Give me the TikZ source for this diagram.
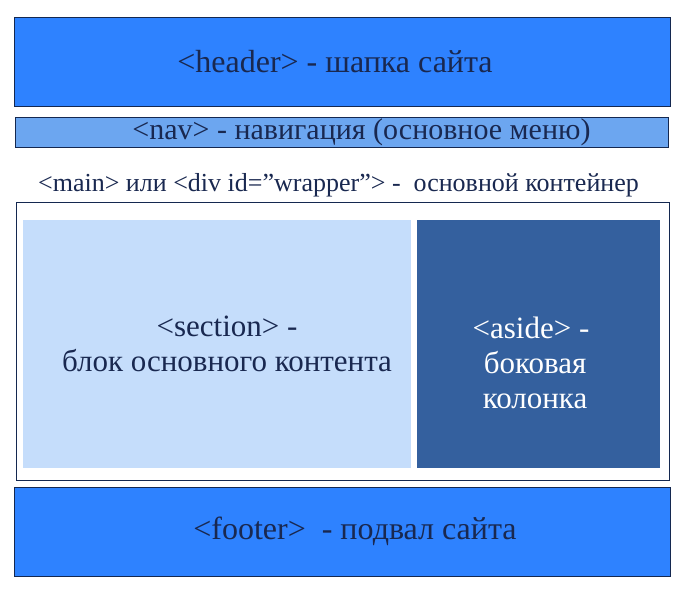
\documentclass[tikz,border=0pt]{standalone}
\usepackage{fontspec}
\setmainfont{Liberation Serif}
\usetikzlibrary{positioning}
\definecolor{mynavy}{RGB}{20,40,80}
\definecolor{mytext}{RGB}{25,40,80}
\definecolor{myblue}{RGB}{46,130,255}
\definecolor{mynav}{RGB}{108,166,240}
\definecolor{mysection}{RGB}{197,221,251}
\definecolor{myaside}{RGB}{52,96,158}
\tikzset{
  bar/.style={rectangle, draw=mynavy, fill=myblue, line width=0.8pt,
    inner sep=0pt, text=mytext, font=\fontsize{32}{36}\selectfont},
  panel/.style={rectangle, inner sep=0pt, align=center,
    font=\fontsize{31}{35}\selectfont}
}
\begin{document}
\begin{tikzpicture}[x=1pt, y=-1pt]
  \useasboundingbox[fill=white] (0,0) rectangle (690,590);

  % Header and navigation
  \node[bar, minimum width=656pt, minimum height=89pt] (header) at (342,61.5)
    {<header> - шапка сайта\hspace*{14pt}};
  \node[bar, fill=mynav, minimum width=653pt, minimum height=30pt,
    font=\fontsize{30}{30}\selectfont] (nav) at (341.5,132)
    {\hspace*{40pt}<nav> - навигация (основное меню)};

  % Main container
  \node[text=mytext, font=\fontsize{26}{28}\selectfont] (mainlbl) at (338.5,185)
    {<main> или <div id=”wrapper”> -\ \ основной контейнер};
  \node[rectangle, draw=mynavy, fill=white, line width=0.8pt,
    minimum width=653pt, minimum height=278pt] (main) at (342.5,341) {};
  \node[panel, fill=mysection, text=mytext, minimum width=388pt,
    minimum height=248pt] (section) at (217,344)
    {\hspace*{20pt}<section> -\\\hspace*{20pt}блок основного контента};
  \node[panel, fill=myaside, minimum width=243pt,
    minimum height=248pt] (aside) at (538.5,344) {};
  \node[panel, text=white] (asidetxt) at (535,363)
    {<aside> -\hspace*{8pt}\\боковая\\колонка};

  % Footer
  \node[bar, minimum width=656pt, minimum height=89pt] (footer) at (342,531.5)
    {\hspace*{26pt}<footer>\ \ - подвал сайта};
\end{tikzpicture}
\end{document}
